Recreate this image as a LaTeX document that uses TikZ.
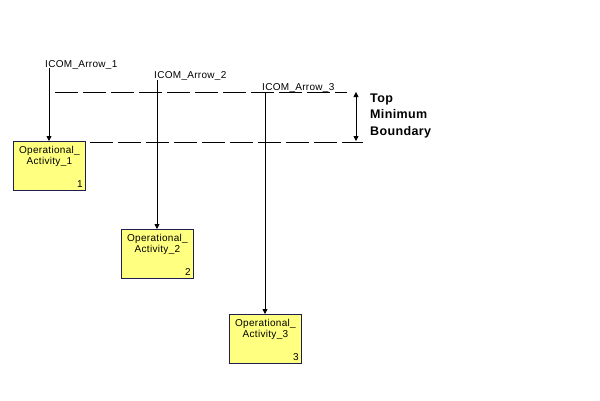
\documentclass[tikz,border=0pt]{standalone}
\usepackage{fontspec}
\setmainfont{Liberation Sans}[LetterSpace=3]
\usetikzlibrary{arrows.meta}
\definecolor{boxfill}{RGB}{255,255,128}
\definecolor{boxline}{RGB}{30,30,80}
\tikzset{
  actbox/.style={draw=boxline, line width=0.9pt, fill=boxfill, minimum width=72pt, minimum height=49pt, anchor=north west, inner sep=0pt},
  acttext/.style={font=\fontsize{10}{10}\selectfont, inner sep=0pt, anchor=base},
  numtext/.style={font=\fontsize{10}{10}\selectfont, inner sep=0pt, anchor=base east},
  icomlabel/.style={font=\fontsize{10}{10}\selectfont, inner sep=0pt, anchor=base west},
  icom/.style={line width=0.8pt, -{Triangle[width=5pt,length=5pt]}},
  boundary/.style={line width=0.8pt, dash pattern=on 23pt off 5pt},
  dimarrow/.style={line width=0.8pt, {Triangle[width=5pt,length=5pt]}-{Triangle[width=5pt,length=5pt]}},
  bndtext/.style={font=\fontsize{12.5}{14}\selectfont\bfseries, inner sep=0pt, anchor=base west}
}
\begin{document}
\begin{tikzpicture}[x=1pt,y=-1pt]
\useasboundingbox (0,0) rectangle (600,400);
\fill[white] (0,0) rectangle (600,400);
% boxes
\node[actbox] (b1) at (13,141) {};
\node[actbox] (b2) at (121,229) {};
\node[actbox] (b3) at (229,314) {};
\foreach \b/\n in {b1/1,b2/2,b3/3}{
  \node[acttext] (\b t1) at ([yshift=-12pt]\b.north) {Operational\_};
  \node[acttext] (\b t2) at ([yshift=-23.5pt]\b.north) {Activity\_\n};
  \node[numtext] (\b n) at ([xshift=-3pt,yshift=3pt]\b.south east) {\n};
}
% labels
\node[icomlabel] (l1) at (45,67) {ICOM\_Arrow\_1};
\node[icomlabel] (l2) at (154,78) {ICOM\_Arrow\_2};
\node[icomlabel] (l3) at (262,90) {ICOM\_Arrow\_3};
% arrow starts
\coordinate (s1) at (49,68);
\coordinate (s2) at (157,80);
\coordinate (s3) at (265,92);
\draw[icom] (s1) -- (s1 |- b1.north);
\draw[icom] (s2) -- (s2 |- b2.north);
\draw[icom] (s3) -- (s3 |- b3.north);
% boundary lines
\coordinate (t0) at (55,92);
\coordinate (t1) at (347,92);
\coordinate (u0) at (90,142);
\coordinate (u1) at (363,142);
\draw[boundary] (t0) -- (t1);
\draw[boundary] (u0) -- (u1);
\coordinate (d0) at (356,92);
\coordinate (d1) at (356,141);
\draw[dimarrow] (d0) -- (d1);
\node[bndtext] (bt) at (370,102) {Top};
\node[bndtext] (bm) at (370,118.5) {Minimum};
\node[bndtext] (bb) at (370,135) {Boundary};
\end{tikzpicture}
\end{document}
